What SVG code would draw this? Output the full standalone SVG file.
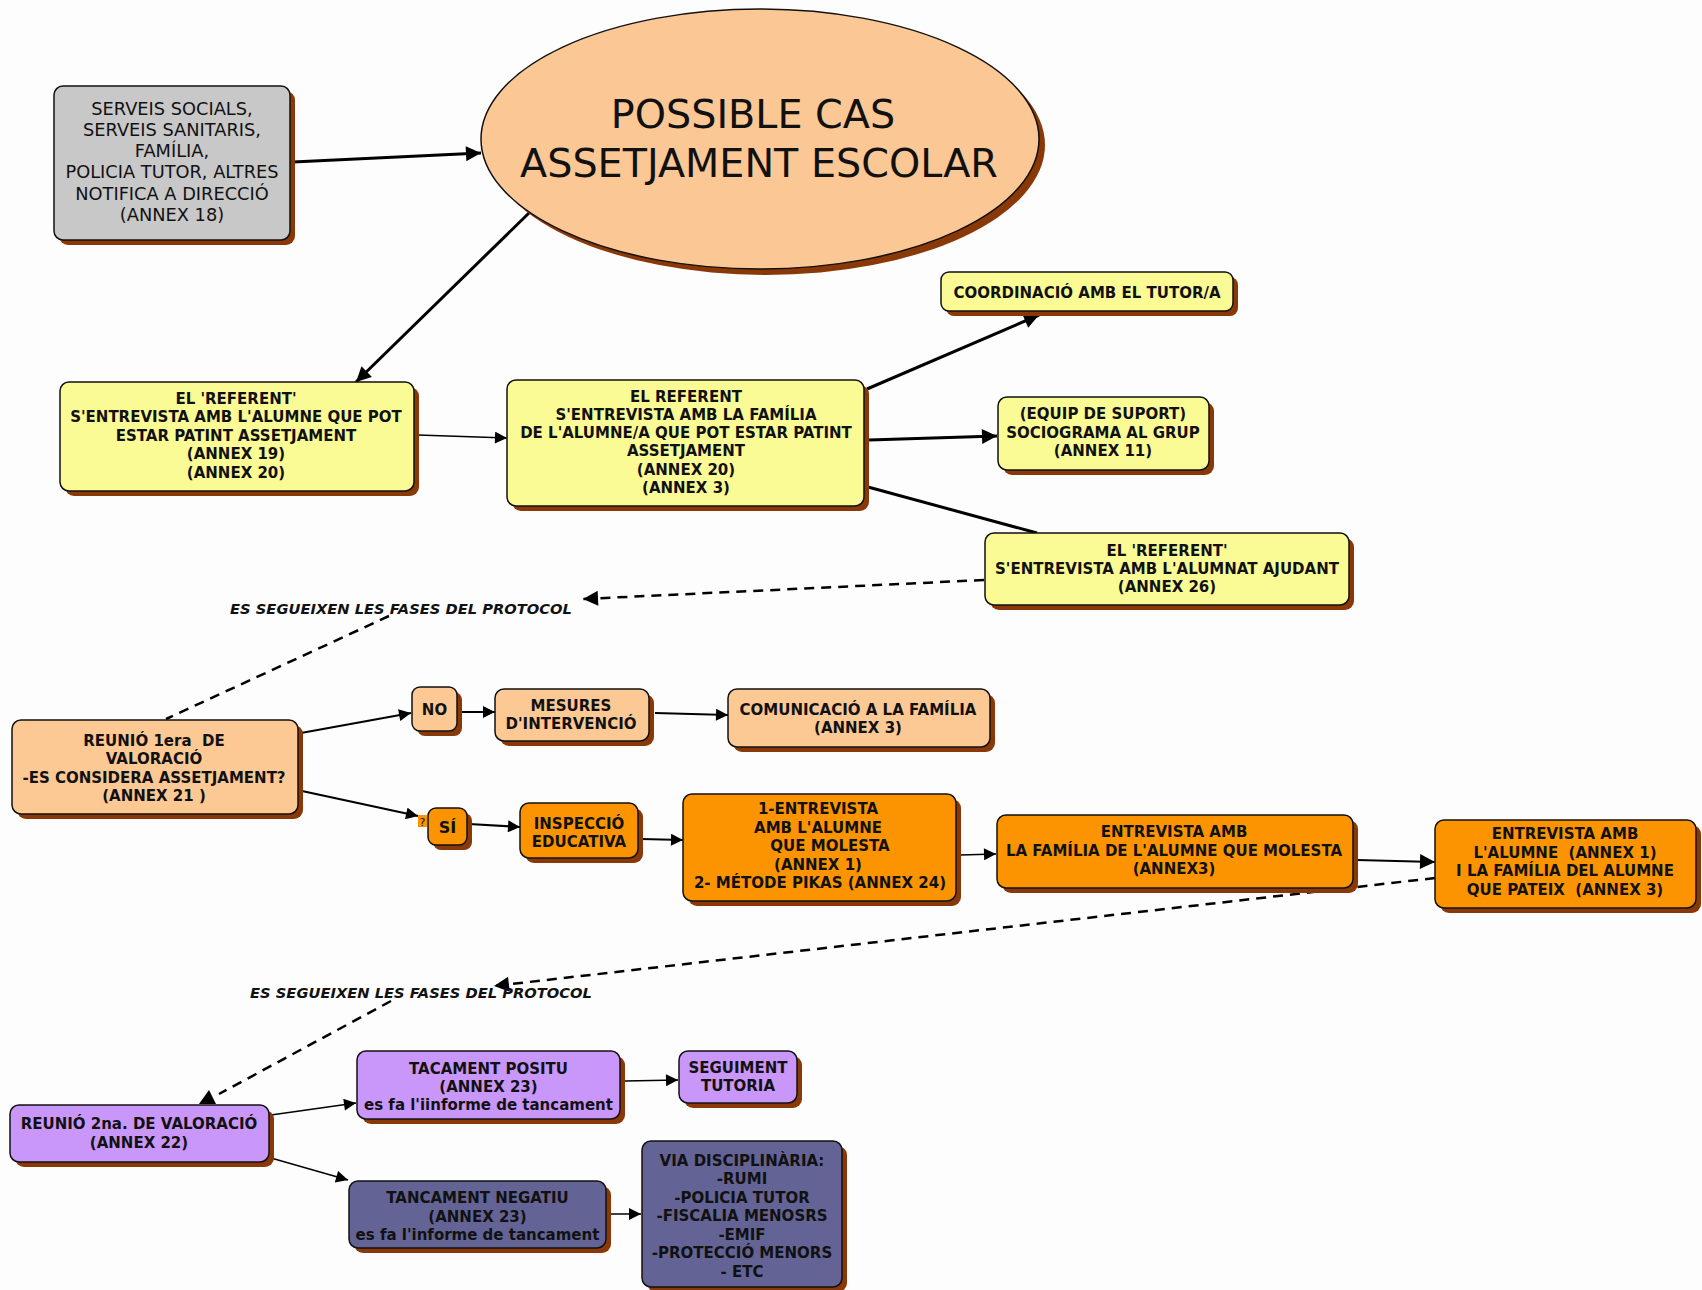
<svg xmlns="http://www.w3.org/2000/svg" width="1702" height="1290" viewBox="0 0 1702 1290">
<defs>
<style>
.sh{fill:#8a3808}
.bx{stroke:#111;stroke-width:1.5}
.gray{fill:#c8c8c8}
.yel{fill:#fbfb96}
.pea{fill:#fcc894}
.org{fill:#fb9400}
.pur{fill:#c996fa}
.sla{fill:#636395}
text{font-family:"DejaVu Sans",Verdana,sans-serif;fill:#111;text-anchor:middle}
.b{font-weight:bold;font-size:15px}
.r{font-size:17.8px}
.t{font-size:39.7px}
.lab{font-weight:bold;font-style:italic;font-size:14.7px}
.c{fill:none;stroke:#000}
.thick{stroke-width:3}
.mid{stroke-width:2.2}
.thin{stroke-width:1.5}
.dash{stroke-width:2.5;stroke-dasharray:10 7}
</style>
<marker id="ah" viewBox="0 0 10 10" refX="10" refY="5" markerWidth="17" markerHeight="15" markerUnits="userSpaceOnUse" orient="auto"><path d="M0,0 L10,5 L0,10 z" fill="#000"/></marker>
<marker id="as" viewBox="0 0 10 10" refX="10" refY="5" markerWidth="13" markerHeight="12" markerUnits="userSpaceOnUse" orient="auto"><path d="M0,0 L10,5 L0,10 z" fill="#000"/></marker>
</defs>
<rect width="1702" height="1290" fill="#fdfdfd"/>

<g id="connectors">
<line class="c thick" x1="293" y1="162" x2="481" y2="153" marker-end="url(#ah)"/>
<line class="c thick" x1="529" y1="213" x2="356" y2="382" marker-end="url(#ah)"/>
<line class="c thin" x1="418" y1="435" x2="507" y2="438" marker-end="url(#as)"/>
<line class="c thick" x1="867" y1="389" x2="1039" y2="315" marker-end="url(#ah)"/>
<line class="c thick" x1="869" y1="440" x2="997" y2="436" marker-end="url(#ah)"/>
<line class="c thick" x1="868" y1="487" x2="1037" y2="533"/>
<line class="c dash" x1="984" y1="580" x2="583" y2="599" marker-end="url(#ah)"/>
<line class="c dash" x1="389" y1="616" x2="166" y2="719"/>
<line class="c mid" x1="301" y1="733" x2="411" y2="713" marker-end="url(#as)"/>
<line class="c mid" x1="458" y1="712" x2="495" y2="712" marker-end="url(#as)"/>
<line class="c mid" x1="655" y1="713" x2="728" y2="715" marker-end="url(#as)"/>
<line class="c mid" x1="302" y1="791" x2="418" y2="816" marker-end="url(#as)"/>
<line class="c mid" x1="469" y1="824" x2="520" y2="827" marker-end="url(#as)"/>
<line class="c mid" x1="641" y1="839" x2="683" y2="840" marker-end="url(#as)"/>
<line class="c thin" x1="960" y1="855" x2="996" y2="854" marker-end="url(#as)"/>
<line class="c mid" x1="1357" y1="860" x2="1435" y2="862" marker-end="url(#ah)"/>
<line class="c dash" x1="1435" y1="878" x2="494" y2="986" marker-end="url(#ah)"/>
<line class="c dash" x1="391" y1="1001" x2="219" y2="1094"/>
<polygon points="209,1090 199,1104 216,1104" fill="#000"/>
<line class="c thin" x1="271" y1="1115" x2="356" y2="1103" marker-end="url(#as)"/>
<line class="c thin" x1="625" y1="1081" x2="678" y2="1080" marker-end="url(#as)"/>
<line class="c thin" x1="271" y1="1158" x2="348" y2="1180" marker-end="url(#as)"/>
<line class="c thin" x1="610" y1="1214" x2="641" y2="1214" marker-end="url(#as)"/>
</g>

<g id="n-notifica">
<rect class="sh" x="59" y="91" width="236" height="154" rx="9"/>
<rect class="bx gray" x="54" y="86" width="236" height="154" rx="9"/>
<text class="r" x="172" y="114.5">SERVEIS SOCIALS,</text>
<text class="r" x="172" y="135.8">SERVEIS SANITARIS,</text>
<text class="r" x="172" y="157.1">FAMÍLIA,</text>
<text class="r" x="172" y="178.4">POLICIA TUTOR, ALTRES</text>
<text class="r" x="172" y="199.7">NOTIFICA A DIRECCIÓ</text>
<text class="r" x="172" y="221">(ANNEX 18)</text>
</g>

<g id="n-possible">
<ellipse cx="766" cy="145" rx="279" ry="130" class="sh"/>
<ellipse cx="760" cy="139" rx="279" ry="130" fill="#fbc895" stroke="#111" stroke-width="1.5"/>
<text class="t" x="753" y="128">POSSIBLE CAS</text>
<text class="t" x="759" y="177">ASSETJAMENT ESCOLAR</text>
</g>

<g id="n-referent-alumne">
<rect class="sh" x="65" y="387" width="354" height="109" rx="9"/>
<rect class="bx yel" x="60" y="382" width="354" height="109" rx="9"/>
<text class="b" x="236" y="404">EL 'REFERENT'</text>
<text class="b" x="236" y="422.4">S'ENTREVISTA AMB L'ALUMNE QUE POT</text>
<text class="b" x="236" y="440.8">ESTAR PATINT ASSETJAMENT</text>
<text class="b" x="236" y="459.2">(ANNEX 19)</text>
<text class="b" x="236" y="477.6">(ANNEX 20)</text>
</g>

<g id="n-referent-familia">
<rect class="sh" x="512" y="385" width="357" height="126" rx="9"/>
<rect class="bx yel" x="507" y="380" width="357" height="126" rx="9"/>
<text class="b" x="686" y="401.5">EL REFERENT</text>
<text class="b" x="686" y="419.8">S'ENTREVISTA AMB LA FAMÍLIA</text>
<text class="b" x="686" y="438.1">DE L'ALUMNE/A QUE POT ESTAR PATINT</text>
<text class="b" x="686" y="456.4">ASSETJAMENT</text>
<text class="b" x="686" y="474.7">(ANNEX 20)</text>
<text class="b" x="686" y="493">(ANNEX 3)</text>
</g>

<g id="n-coordinacio">
<rect class="sh" x="946" y="277" width="292" height="39" rx="8"/>
<rect class="bx yel" x="941" y="272" width="292" height="39" rx="8"/>
<text class="b" x="1087" y="297.5">COORDINACIÓ AMB EL TUTOR/A</text>
</g>

<g id="n-equip">
<rect class="sh" x="1003" y="402" width="211" height="73" rx="9"/>
<rect class="bx yel" x="998" y="397" width="211" height="73" rx="9"/>
<text class="b" x="1103" y="419">(EQUIP DE SUPORT)</text>
<text class="b" x="1103" y="437.5">SOCIOGRAMA AL GRUP</text>
<text class="b" x="1103" y="456">(ANNEX 11)</text>
</g>

<g id="n-ajudant">
<rect class="sh" x="990" y="538" width="364" height="72" rx="9"/>
<rect class="bx yel" x="985" y="533" width="364" height="72" rx="9"/>
<text class="b" x="1167" y="555.5">EL 'REFERENT'</text>
<text class="b" x="1167" y="573.5">S'ENTREVISTA AMB L'ALUMNAT AJUDANT</text>
<text class="b" x="1167" y="591.5">(ANNEX 26)</text>
</g>

<g id="label-fases-1">
<text class="lab" x="401" y="614">ES SEGUEIXEN LES FASES DEL PROTOCOL</text>
</g>

<g id="n-reunio1">
<rect class="sh" x="17" y="725" width="286" height="94" rx="9"/>
<rect class="bx pea" x="12" y="720" width="286" height="94" rx="9"/>
<text class="b" x="154" y="745.5">REUNIÓ 1era&#160; DE</text>
<text class="b" x="154" y="764">VALORACIÓ</text>
<text class="b" x="154" y="782.5">-ES CONSIDERA ASSETJAMENT?</text>
<text class="b" x="154" y="801">(ANNEX 21 )</text>
</g>

<g id="n-no">
<rect class="sh" x="417" y="692" width="45" height="44" rx="8"/>
<rect class="bx pea" x="412" y="687" width="45" height="44" rx="8"/>
<text class="b" x="434.5" y="714.5">NO</text>
</g>

<g id="n-mesures">
<rect class="sh" x="500" y="694" width="154" height="52" rx="9"/>
<rect class="bx pea" x="495" y="689" width="154" height="52" rx="9"/>
<text class="b" x="571" y="711">MESURES</text>
<text class="b" x="571" y="729">D'INTERVENCIÓ</text>
</g>

<g id="n-comunicacio">
<rect class="sh" x="733" y="694" width="262" height="58" rx="9"/>
<rect class="bx pea" x="728" y="689" width="262" height="58" rx="9"/>
<text class="b" x="858" y="714.5">COMUNICACIÓ A LA FAMÍLIA</text>
<text class="b" x="858" y="732.5">(ANNEX 3)</text>
</g>

<g id="n-si">
<rect x="418" y="815" width="9" height="12" fill="#fb9400"/>
<text x="422.5" y="825.5" style="font-size:11px">?</text>
<rect class="sh" x="433" y="813" width="39" height="37" rx="8"/>
<rect class="bx org" x="428" y="808" width="39" height="37" rx="8"/>
<text class="b" x="447.5" y="832.5" style="font-size:16px">SÍ</text>
</g>

<g id="n-inspeccio">
<rect class="sh" x="525" y="808" width="118" height="55" rx="9"/>
<rect class="bx org" x="520" y="803" width="118" height="55" rx="9"/>
<text class="b" x="579" y="828.5">INSPECCIÓ</text>
<text class="b" x="579" y="846.5">EDUCATIVA</text>
</g>

<g id="n-entrevista-molesta">
<rect class="sh" x="688" y="799" width="273" height="107" rx="9"/>
<rect class="bx org" x="683" y="794" width="273" height="107" rx="9"/>
<text class="b" x="818" y="814">1-ENTREVISTA</text>
<text class="b" x="818" y="832.5">AMB L'ALUMNE</text>
<text class="b" x="830" y="851">QUE MOLESTA</text>
<text class="b" x="818" y="869.5">(ANNEX 1)</text>
<text class="b" x="820" y="888">2- MÉTODE PIKAS (ANNEX 24)</text>
</g>

<g id="n-familia-molesta">
<rect class="sh" x="1002" y="820" width="356" height="73" rx="9"/>
<rect class="bx org" x="997" y="815" width="356" height="73" rx="9"/>
<text class="b" x="1174" y="837">ENTREVISTA AMB</text>
<text class="b" x="1174" y="855.5">LA FAMÍLIA DE L'ALUMNE QUE MOLESTA</text>
<text class="b" x="1174" y="874">(ANNEX3)</text>
</g>

<g id="n-alumne-pateix">
<rect class="sh" x="1440" y="825" width="261" height="88" rx="9"/>
<rect class="bx org" x="1435" y="820" width="261" height="88" rx="9"/>
<text class="b" x="1565" y="839">ENTREVISTA AMB</text>
<text class="b" x="1565" y="857.5">L'ALUMNE&#160; (ANNEX 1)</text>
<text class="b" x="1565" y="876">I LA FAMÍLIA DEL ALUMNE</text>
<text class="b" x="1565" y="894.5">QUE PATEIX&#160; (ANNEX 3)</text>
</g>

<g id="label-fases-2">
<text class="lab" x="421" y="998">ES SEGUEIXEN LES FASES DEL PROTOCOL</text>
</g>

<g id="n-reunio2">
<rect class="sh" x="15" y="1110" width="259" height="57" rx="9"/>
<rect class="bx pur" x="10" y="1105" width="259" height="57" rx="9"/>
<text class="b" x="139" y="1129">REUNIÓ 2na. DE VALORACIÓ</text>
<text class="b" x="139" y="1147.5">(ANNEX 22)</text>
</g>

<g id="n-positiu">
<rect class="sh" x="362" y="1056" width="263" height="68" rx="9"/>
<rect class="bx pur" x="357" y="1051" width="263" height="68" rx="9"/>
<text class="b" x="488.5" y="1073.5">TACAMENT POSITU</text>
<text class="b" x="488.5" y="1091.5">(ANNEX 23)</text>
<text class="b" x="488.5" y="1109.5">es fa l'iinforme de tancament</text>
</g>

<g id="n-seguiment">
<rect class="sh" x="684" y="1056" width="118" height="52" rx="9"/>
<rect class="bx pur" x="679" y="1051" width="118" height="52" rx="9"/>
<text class="b" x="738" y="1072.5">SEGUIMENT</text>
<text class="b" x="738" y="1091">TUTORIA</text>
</g>

<g id="n-negatiu">
<rect class="sh" x="354" y="1186" width="257" height="67" rx="9"/>
<rect class="bx sla" x="349" y="1181" width="257" height="67" rx="9"/>
<text class="b" x="477.5" y="1203">TANCAMENT NEGATIU</text>
<text class="b" x="477.5" y="1221.5">(ANNEX 23)</text>
<text class="b" x="477.5" y="1240">es fa l'informe de tancament</text>
</g>

<g id="n-disciplinaria">
<rect class="sh" x="647" y="1146" width="200" height="146" rx="9"/>
<rect class="bx sla" x="642" y="1141" width="200" height="146" rx="9"/>
<text class="b" x="742" y="1165.5">VIA DISCIPLINÀRIA:</text>
<text class="b" x="742" y="1184">-RUMI</text>
<text class="b" x="742" y="1202.5">-POLICIA TUTOR</text>
<text class="b" x="742" y="1221">-FISCALIA MENOSRS</text>
<text class="b" x="742" y="1239.5">-EMIF</text>
<text class="b" x="742" y="1258">-PROTECCIÓ MENORS</text>
<text class="b" x="742" y="1276.5">- ETC</text>
</g>
</svg>
